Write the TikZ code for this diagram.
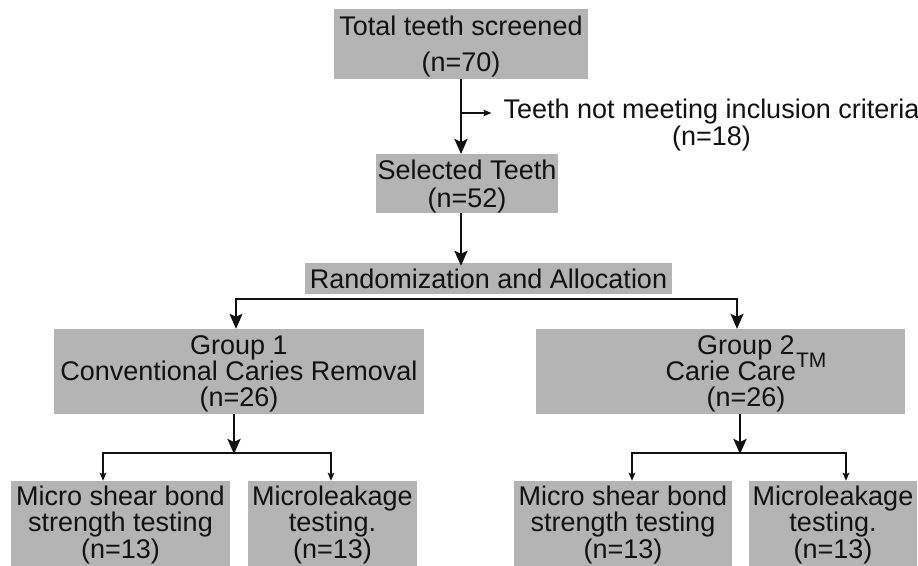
\documentclass[tikz,border=0pt]{standalone}
\usepackage{fontspec}
\setmainfont{Liberation Sans}
\usetikzlibrary{arrows.meta,calc}
\definecolor{boxgrey}{RGB}{180,180,180}
\definecolor{ink}{RGB}{17,17,17}
\newcommand{\topstrut}[1]{\rule{0pt}{#1}}
\begin{document}
\begin{tikzpicture}[x=1pt,y=-1pt,
  box/.style={fill=boxgrey, inner sep=0pt, align=center, text=ink},
  fs/.style={font=\fontsize{27}{#1}\selectfont},
  big/.style={draw=ink, line width=2.6pt, -{Stealth[length=15pt,width=13pt,inset=3pt]}},
  bigtwo/.style={draw=ink, line width=2pt, {Stealth[length=15pt,width=13pt,inset=3pt]}-{Stealth[length=15pt,width=13pt,inset=3pt]}},
  thin/.style={draw=ink, line width=1.5pt, -{Stealth[length=8pt,width=6.5pt,inset=1.5pt]}},
  split/.style={draw=ink, line width=2pt, {Stealth[length=8pt,width=6.5pt,inset=1.5pt]}-{Stealth[length=8pt,width=6.5pt,inset=1.5pt]}},
]
\useasboundingbox[fill=white] (0,0) rectangle (918,565);

% boxes
\node[box, fs=36, minimum width=254pt, minimum height=70pt] (tot) at (461,44) {\topstrut{25pt}Total teeth screened\\(n=70)};
\node[box, fs=28, minimum width=182pt, minimum height=57pt] (sel) at (467,183.5) {\topstrut{25pt}Selected Teeth\\(n=52)};
\node[box, fs=27, minimum width=367pt, minimum height=31pt] (rand) at (488.5,278.5) {Randomization and Allocation};
\node[box, fs=26, minimum width=370pt, minimum height=85pt] (g1) at (239,371.5) {\topstrut{24pt}Group 1\\Conventional Caries Removal\\(n=26)};
\node[box, minimum width=369pt, minimum height=85pt] (g2) at (720.5,371.5) {};
\node[align=center, inner sep=0pt, text=ink, fs=26] (g2t) at (746,371.5) {\topstrut{24pt}Group 2\\Carie Care\smash{\raisebox{13pt}{\fontsize{21}{21}\selectfont TM}}\\(n=26)};

\node[box, fs=26.5, minimum width=219pt, minimum height=88pt] (s11) at (120.5,525) {Micro shear bond\\strength testing\\(n=13)};
\node[box, fs=26.5, minimum width=169pt, minimum height=88pt] (s12) at (332.5,525) {Microleakage\\testing.\\(n=13)};
\node[box, fs=26.5, minimum width=218pt, minimum height=88pt] (s21) at (623,525) {Micro shear bond\\strength testing\\(n=13)};
\node[box, fs=26.5, minimum width=168pt, minimum height=88pt] (s22) at (833,525) {Microleakage\\testing.\\(n=13)};

% exclusion label
\node[align=center, inner ysep=0pt, inner xsep=12pt, text=ink, fs=27] (excl) at (711.5,125) {Teeth not meeting inclusion criteria\\(n=18)};

% connectors
\draw[big] (tot.south) -- (tot.south |- sel.north);
\coordinate (br) at (461,113);
\draw[thin] (br) -- (br -| excl.west);

\draw[big] (sel.south -| br) -- ([yshift=-3pt]rand.north -| br);

\coordinate (hl) at (236,299);
\coordinate (hr) at (737,299);
\draw[bigtwo] (hl |- g1.north) -- (hl) -- (hr) -- (hr |- g2.north);

\coordinate (a1) at (234,453);
\draw[big] (g1.south -| a1) -- ([yshift=-1pt]a1);
\coordinate (l1) at (103,453);
\coordinate (r1) at (331,453);
\draw[split] (l1 |- s11.north) -- (l1) -- (r1) -- (r1 |- s12.north);

\coordinate (a2) at (740,453);
\draw[big] (g2.south -| a2) -- ([yshift=-1pt]a2);
\coordinate (l2) at (632,453);
\coordinate (r2) at (846,453);
\draw[split] (l2 |- s21.north) -- (l2) -- (r2) -- (r2 |- s22.north);
\end{tikzpicture}
\end{document}
